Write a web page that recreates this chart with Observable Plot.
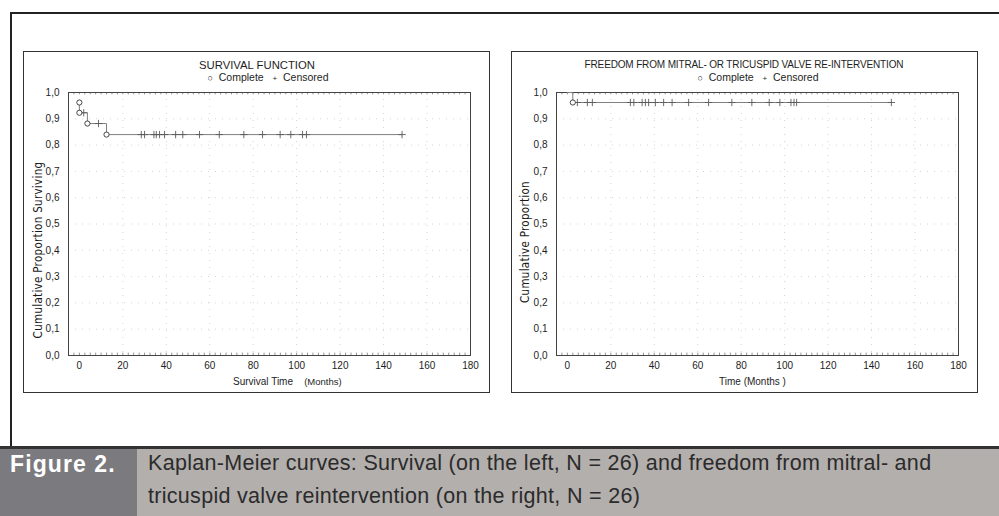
<!DOCTYPE html>
<html>
<head>
<meta charset="utf-8">
<script src="https://cdn.jsdelivr.net/npm/d3@7"></script>
<script src="https://cdn.jsdelivr.net/npm/@observablehq/plot@0.6"></script>
<style>
  html, body { margin: 0; padding: 0; background: #fff; }
  #page { position: relative; width: 999px; height: 516px; overflow: hidden; background: #fff;
          font-family: "Liberation Sans", Arial, sans-serif; color: #1e1e1e; }
  .abs { position: absolute; white-space: nowrap; }
  .panel { position: absolute; top: 51px; width: 467px; height: 342px; border: 1px solid #333; box-sizing: border-box; }
  .panel svg { position: absolute; left: 0; top: 0; }
  .title { transform: translateX(-50%); }
  .legend { font-size: 10.5px; transform: translateX(-50%); }
  .ylab { font-family: "Liberation Sans Narrow", "DejaVu Sans Condensed", sans-serif; font-stretch: condensed;
          font-size: 11.5px; letter-spacing: 0.3px; color: #1a1a1a; transform: translate(-50%, -50%) rotate(-90deg); }
  .xlab { font-size: 10px; }
  .cap { font-size: 21.5px; color: #2b2b2b; letter-spacing: 0.3px; }
</style>
</head>
<body>
<div id="page">
  <div class="abs" style="left:10px;top:12px;width:1000px;height:434px;border-left:2px solid #222;border-top:2px solid #222;"></div>
  <div class="panel" id="left" style="left:23px;"></div>
  <div class="panel" id="right" style="left:511px;"></div>

  <div class="abs title" style="left:257px;top:59px;font-size:11.3px;">SURVIVAL FUNCTION</div>
  <div class="abs legend" style="left:268px;top:71px;"><span style="font-size:9px">&#9675;</span>&nbsp; Complete &nbsp;&nbsp;<span style="font-size:8px">+</span>&nbsp; Censored</div>
  <div class="abs ylab" style="left:38px;top:250px;">Cumulative Proportion Surviving</div>
  <div class="abs xlab" style="left:233px;top:376px;">Survival Time &nbsp;&nbsp;&nbsp;<span style="font-size:9.5px">(Months)</span></div>

  <div class="abs title" style="left:744px;top:59px;font-size:10px;letter-spacing:-0.15px;">FREEDOM FROM MITRAL- OR TRICUSPID VALVE RE-INTERVENTION</div>
  <div class="abs legend" style="left:758px;top:71px;"><span style="font-size:9px">&#9675;</span>&nbsp; Complete &nbsp;&nbsp;<span style="font-size:8px">+</span>&nbsp; Censored</div>
  <div class="abs ylab" style="left:525px;top:242px;">Cumulative Proportion</div>
  <div class="abs xlab" style="left:719px;top:376px;">Time (Months )</div>

  <div class="abs" style="left:0;top:446px;width:999px;height:3px;background:#333;"></div>
  <div class="abs" style="left:0;top:449px;width:137px;height:67px;background:#7b7b7f;"></div>
  <div class="abs" style="left:137px;top:449px;width:862px;height:67px;background:#b3afad;"></div>
  <div class="abs" style="left:10px;top:451px;font-size:23px;font-weight:bold;color:#fff;letter-spacing:1.1px;">Figure 2.</div>
  <div class="abs cap" style="left:148px;top:451px;">Kaplan-Meier curves: Survival (on the left, N = 26) and freedom from mitral- and</div>
  <div class="abs cap" style="left:148px;top:484px;">tricuspid valve reintervention (on the right, N = 26)</div>
</div>
<script>
// ---- data ----
const xTicks = [0, 20, 40, 60, 80, 100, 120, 140, 160, 180];
const yTicks = [0, 0.1, 0.2, 0.3, 0.4, 0.5, 0.6, 0.7, 0.8, 0.9, 1.0];

// Left: survival function
const leftStart = [{t: 0, s: 0.962}];
const leftCompleteTime = [0, 0, 3.7, 12.5];
const leftCompleteSurv = [0.962, 0.923, 0.882, 0.840];
const leftCensoredTime = [2.0, 8.8, 28.5, 30.0, 34.3, 35.4, 36.9, 39.2, 44.3, 47.6, 55.3, 64.4, 75.7, 84.3, 92.4, 97.3, 102.7, 104.5, 148.5];
const leftCensoredSurv = [0.923, 0.882, 0.840, 0.840, 0.840, 0.840, 0.840, 0.840, 0.840, 0.840, 0.840, 0.840, 0.840, 0.840, 0.840, 0.840, 0.840, 0.840, 0.840];

// Right: freedom from re-intervention
const rightStart = [{t: 0, s: 1.0}];
const rightCompleteTime = [2.5];
const rightCompleteSurv = [0.962];
const rightCensoredTime = [4.6, 9.2, 11.5, 29.0, 30.6, 34.4, 35.9, 37.4, 40.5, 44.3, 48.2, 55.8, 65.0, 75.7, 84.9, 92.9, 97.8, 102.9, 104.3, 105.5, 149.1];
const rightCensoredSurv = [0.962, 0.962, 0.962, 0.962, 0.962, 0.962, 0.962, 0.962, 0.962, 0.962, 0.962, 0.962, 0.962, 0.962, 0.962, 0.962, 0.962, 0.962, 0.962, 0.962, 0.962];

const fmt = d => d.toFixed(1).replace(".", ",");
const minorTicks = d3.range(-5, 180.01, 2.5);

function km(start, cTime, cSurv, zTime, zSurv) {
  const complete = cTime.map((t, i) => ({t, s: cSurv[i]}));
  const censored = zTime.map((t, i) => ({t, s: zSurv[i]}));
  const last = censored[censored.length - 1];
  const stepPts = [...start, ...complete, last];
  return Plot.plot({
    width: 465, height: 340,
    marginLeft: 44, marginRight: 19, marginTop: 40, marginBottom: 37,
    style: {background: "transparent", fontFamily: "'Liberation Sans', Arial, sans-serif", fontSize: "10px", color: "#1e1e1e"},
    x: {domain: [-5, 180]},
    y: {domain: [0, 1]},
    marks: [
      Plot.gridX(xTicks.slice(1, -1), {stroke: "#d4d4d4", strokeOpacity: 1, strokeDasharray: "1,6"}),
      Plot.gridY(yTicks.slice(1, -1), {stroke: "#d4d4d4", strokeOpacity: 1, strokeDasharray: "1,6"}),
      Plot.axisX(xTicks, {tickSize: 0, tickPadding: 6, label: null, tickFormat: d => String(d), fill: "#1e1e1e"}),
      Plot.axisY(yTicks, {tickSize: 0, tickPadding: 9, label: null, tickFormat: fmt, fill: "#1e1e1e"}),
      Plot.ruleX(minorTicks, {x: d => d, y1: 1, y2: 0.991, stroke: "#777", strokeWidth: 0.8}),
      Plot.ruleX(minorTicks, {x: d => d, y1: 0, y2: 0.009, stroke: "#777", strokeWidth: 0.8}),
      Plot.frame({stroke: "#444"}),
      Plot.line(stepPts, {x: "t", y: "s", curve: "step-after", stroke: "#808080", strokeWidth: 1}),
      Plot.dot(censored, {x: "t", y: "s", symbol: "plus", r: 2.5, stroke: "#5a5a5a", strokeWidth: 0.9}),
      Plot.dot(complete, {x: "t", y: "s", symbol: "circle", r: 2.6, stroke: "#333", fill: "white", strokeWidth: 0.9})
    ]
  });
}

document.getElementById("left").appendChild(
  km(leftStart, leftCompleteTime, leftCompleteSurv, leftCensoredTime, leftCensoredSurv));
document.getElementById("right").appendChild(
  km(rightStart, rightCompleteTime, rightCompleteSurv, rightCensoredTime, rightCensoredSurv));
</script>
</body>
</html>
